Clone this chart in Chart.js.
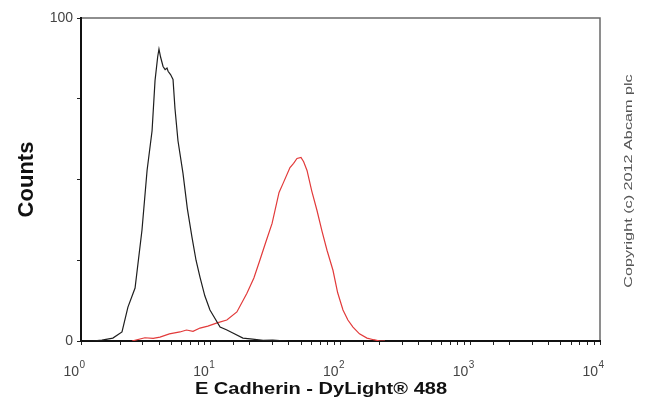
<!DOCTYPE html>
<html>
<head>
<meta charset="utf-8">
<script src="https://cdn.jsdelivr.net/npm/chart.js@4.4.1/dist/chart.umd.min.js"></script>
<style>
  html, body { margin: 0; padding: 0; background: #ffffff; }
  #wrap { width: 650px; height: 419px; position: relative; }
</style>
</head>
<body>
<div id="wrap"><canvas id="c" width="650" height="419"></canvas></div>
<script>
// Isotype control (black) histogram: fluorescence intensity vs counts (% of max)
const controlX = [1.04, 1.22, 1.45, 1.76, 2.07, 2.30, 2.61, 2.95, 3.23, 3.53, 3.72, 3.90, 3.99, 4.10, 4.29, 4.45, 4.60, 4.69, 4.90, 5.12, 5.30, 5.59, 6.11, 6.60, 7.17, 7.70, 8.26, 9.00, 9.86, 11.8, 13.2, 14.8, 17.7, 21.0, 25.3, 30.0, 38.7];
const controlY = [0, 0, 0.3, 0.9, 2.8, 10.5, 16.4, 34.3, 52.8, 65.1, 80.6, 88, 90.4, 88, 85, 84, 84.5, 83.5, 82.5, 81, 72, 62.0, 51.9, 41, 32.1, 25, 19.8, 14, 9.6, 4.3, 3.5, 2.5, 0.9, 0.6, 0.2, 0.3, 0];
// E Cadherin - DyLight 488 stained (red) histogram
const stainedX = [2.47, 3.11, 3.60, 4.06, 4.80, 5.79, 6.50, 7.30, 8.26, 9.50, 11.2, 13.3, 15.9, 19.0, 21.5, 23.9, 26.5, 29.7, 33.6, 36.1, 40.8, 43.5, 46.2, 49.6, 52.0, 55.2, 60.0, 65.9, 72.0, 78.7, 87.5, 95.0, 104.5, 114, 124.8, 140, 160, 180, 201, 220];
const stainedY = [0, 1, 0.8, 1.2, 2.2, 2.8, 3.4, 3.0, 4.0, 4.6, 5.6, 6.5, 9.0, 14.8, 19.5, 25.0, 30.5, 36.4, 46.0, 48.8, 53.7, 55.0, 56.5, 56.8, 55.5, 52.8, 46.5, 40.4, 34, 28.1, 21.9, 15, 9.6, 6.5, 4.3, 2.2, 0.9, 0.4, 0, 0];
// Axis labels
const xDecades = [1, 10, 100, 1000, 10000];
const xDecadeExponents = ['0', '1', '2', '3', '4'];
const yLabeled = [0, 100];
const xTitle = 'E Cadherin - DyLight\u00AE 488';
const yTitle = 'Counts';
const copyright = 'Copyright (c) 2012 Abcam plc';

const toPoints = (xs, ys) => xs.map((x, i) => ({ x: x, y: ys[i] }));
const FONT = '"Liberation Sans", Arial, sans-serif';

const framePlugin = {
  id: 'frame',
  beforeDraw(chart) {
    const { ctx, chartArea: a } = chart;
    ctx.save();
    ctx.strokeStyle = '#6a6a6a';
    ctx.lineWidth = 1.5;
    ctx.beginPath();
    ctx.moveTo(a.left, a.top);
    ctx.lineTo(a.right, a.top);
    ctx.lineTo(a.right, a.bottom);
    ctx.stroke();
    ctx.restore();
  },
  afterDraw(chart) {
    const { ctx } = chart;
    const xs = chart.scales.x;
    // decade labels: 10 with superscript exponent, placed from the log scale
    ctx.save();
    ctx.fillStyle = '#444444';
    ctx.textBaseline = 'alphabetic';
    xDecades.forEach((v, i) => {
      const px = xs.getPixelForValue(v);
      ctx.font = '14px ' + FONT;
      ctx.textAlign = 'right';
      ctx.fillText('10', px - 2, 376);
      ctx.font = '10px ' + FONT;
      ctx.textAlign = 'left';
      ctx.fillText(xDecadeExponents[i], px - 1.5, 368);
    });
    ctx.restore();

    // x axis title
    ctx.save();
    ctx.translate(321, 394);
    ctx.scale(1.18, 1);
    ctx.font = 'bold 17px ' + FONT;
    ctx.fillStyle = '#111111';
    ctx.textAlign = 'center';
    ctx.textBaseline = 'alphabetic';
    ctx.fillText(xTitle, 0, 0);
    ctx.restore();

    // copyright
    ctx.save();
    ctx.translate(629, 181);
    ctx.rotate(-Math.PI / 2);
    ctx.scale(1.62, 1);
    ctx.font = '10px ' + FONT;
    ctx.fillStyle = '#555555';
    ctx.textAlign = 'center';
    ctx.textBaseline = 'middle';
    ctx.fillText(copyright, 0, 0);
    ctx.restore();
  }
};

new Chart(document.getElementById('c'), {
  type: 'scatter',
  data: {
    datasets: [
      {
        label: 'Control',
        data: toPoints(controlX, controlY),
        showLine: true,
        borderColor: '#1e1e1e',
        borderWidth: 1.2,
        pointRadius: 0,
        tension: 0
      },
      {
        label: 'E Cadherin',
        data: toPoints(stainedX, stainedY),
        showLine: true,
        borderColor: '#e23a3a',
        borderWidth: 1.2,
        pointRadius: 0,
        tension: 0
      }
    ]
  },
  options: {
    responsive: false,
    animation: false,
    devicePixelRatio: 1,
    layout: { padding: { left: 0, right: 50, top: 18, bottom: 0 } },
    plugins: { legend: { display: false }, tooltip: { enabled: false } },
    scales: {
      x: {
        type: 'logarithmic',
        min: 1,
        max: 10000,
        afterFit(s) { s.height = 78; },
        border: { display: true, color: '#111111', width: 2 },
        grid: { display: true, drawOnChartArea: false, drawTicks: true, tickLength: 4, color: '#222222', lineWidth: 1 },
        ticks: {
          display: false,
          autoSkip: false,
          maxRotation: 0
        }
      },
      y: {
        min: 0,
        max: 100,
        afterFit(s) { s.width = 81; },
        border: { display: true, color: '#111111', width: 2 },
        grid: { display: true, drawOnChartArea: false, drawTicks: true, tickLength: 4, color: '#222222', lineWidth: 1 },
        ticks: {
          stepSize: 25,
          padding: 4,
          color: '#444444',
          font: { family: FONT, size: 14 },
          callback(v) { return yLabeled.includes(v) ? String(v) : ''; }
        },
        title: {
          display: true,
          text: yTitle,
          color: '#111111',
          font: { family: FONT, size: 22, weight: 'bold' },
          padding: { top: 14, bottom: 0 }
        }
      }
    }
  },
  plugins: [framePlugin]
});
</script>
</body>
</html>
